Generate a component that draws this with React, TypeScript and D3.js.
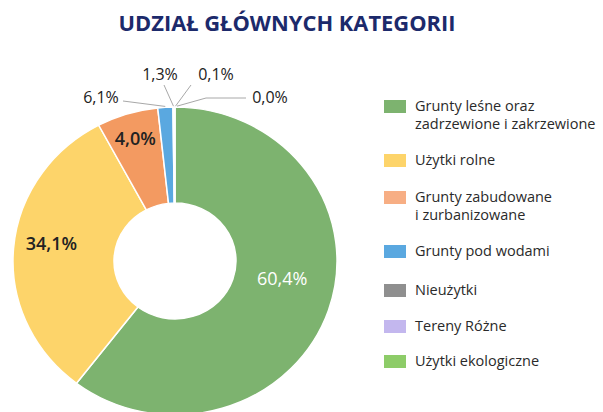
import * as d3 from "d3";
import React from "react";

// categories + colours (legend order = slice order, clockwise from 12 o'clock)
const categories = [
  ["Grunty leśne oraz", "zadrzewione i zakrzewione"],
  ["Użytki rolne"],
  ["Grunty zabudowane", "i zurbanizowane"],
  ["Grunty pod wodami"],
  ["Nieużytki"],
  ["Tereny Różne"],
  ["Użytki ekologiczne"],
];
const sliceColors = ["#7db36f", "#fdd46a", "#f39a61", "#5aa8e0", "#8f8f8f", "#c3b7ee", "#8dcc68"];
const legendColors = ["#7db36f", "#fdd46a", "#f7ae84", "#5aa8e0", "#8f8f8f", "#c3b7ee", "#8dcc68"];
// shares as drawn in the picture
const shares = [60.4, 31.8, 6.1, 1.5, 0.1, 0.1, 0.0];
// labels as printed
const printed = ["60,4%", "34,1%", "4,0%", "6,1%", "1,3%", "0,1%", "0,0%"];

const W = 603;
const H = 412;
const cx = 175;
const cy = 261;
const rOuter = 162;
const rInner = 61;
const squash = 0.95;

// inner label placement (radius, nudge)
const innerLabel = [
  { r: 111, dx: 2, dy: -16, fill: "#ffffff", weight: 400 },
  { r: 127, dx: 3, dy: -7, fill: "#222", weight: 600 },
  { r: 135, dx: 0, dy: 0, fill: "#222", weight: 600 },
];
// outer label text anchors for slices 3..6
const outerLayout = [
  { tx: 101, ty: 103, bend: [123, 101], ex: 0 },
  { tx: 160, ty: 80, bend: [164, 85], ex: 0 },
  { tx: 216, ty: 80, bend: [191, 85], ex: 1 },
  { tx: 270, ty: 103, bend: [206, 98], ex: 2, start: [246, 98] },
];
const legendY = [106, 160, 197, 251, 290, 326, 361];

export default function App() {
  const pie = d3.pie<number>().sort(null).value((d) => d);
  const arcs = pie(shares);
  const arc = d3.arc<d3.PieArcDatum<number>>().innerRadius(rInner).outerRadius(rOuter);

  const pt = (angle: number, r: number) => [
    cx + r * Math.sin(angle),
    cy - r * Math.cos(angle) * squash,
  ];

  return (
    <div style={{ position: "absolute", left: 0, top: 0 }}>
      <svg width={W} height={H} style={{ display: "block", background: "#fff" }}>
        <text
          x={287}
          y={31}
          textAnchor="middle"
          fontFamily="'Open Sans', sans-serif"
          fontWeight={700}
          fontSize={22}
          fill="#1c2a6b"
          textLength={337}
          lengthAdjust="spacingAndGlyphs"
        >
          UDZIAŁ GŁÓWNYCH KATEGORII
        </text>

        {/* donut */}
        <g transform={`translate(${cx},${cy}) scale(1,${squash})`}>
          {arcs.map((a, i) => (
            <path
              key={i}
              d={arc(a) || ""}
              fill={sliceColors[i]}
              stroke="#fff"
              strokeWidth={a.value > 0 ? 1.5 : 0}
            />
          ))}
        </g>

        {/* inner labels */}
        {innerLabel.map((l, i) => {
          const a = arcs[i];
          const mid = (a.startAngle + a.endAngle) / 2;
          const [x, y] = pt(mid, l.r);
          return (
            <text
              key={i}
              x={x + l.dx}
              y={y + l.dy}
              dy="0.35em"
              textAnchor="middle"
              fontFamily="'Open Sans', sans-serif"
              fontSize={18}
              fontWeight={l.weight}
              fill={l.fill}
            >
              {printed[i]}
            </text>
          );
        })}

        {/* outer labels with leader lines */}
        {outerLayout.map((l, k) => {
          const i = k + 3;
          const a = arcs[i];
          const mid = (a.startAngle + a.endAngle) / 2;
          const [x0, y0] = pt(mid, rOuter + 1);
          const pts: [number, number][] = [];
          if (l.start) pts.push(l.start as [number, number]);
          pts.push(l.bend as [number, number]);
          pts.push([x0 + l.ex, y0]);
          return (
            <g key={i}>
              <path d={d3.line()(pts) || ""} fill="none" stroke="#a8a8a8" strokeWidth={1} />
              <text
                x={l.tx}
                y={l.ty}
                textAnchor="middle"
                fontFamily="'Open Sans', sans-serif"
                fontSize={16}
                fill="#222"
              >
                {printed[i]}
              </text>
            </g>
          );
        })}

        {/* legend */}
        {categories.map((lines, i) => (
          <g key={i} transform={`translate(384,${legendY[i]})`}>
            <rect x={0} y={-6} width={22} height={13} fill={legendColors[i]} />
            {lines.map((t, j) => (
              <text
                key={j}
                x={31}
                y={5 + j * 18}
                fontFamily="'Open Sans', sans-serif"
                fontSize={14.5}
                fill="#2a2a2a"
              >
                {t}
              </text>
            ))}
          </g>
        ))}
      </svg>
    </div>
  );
}
